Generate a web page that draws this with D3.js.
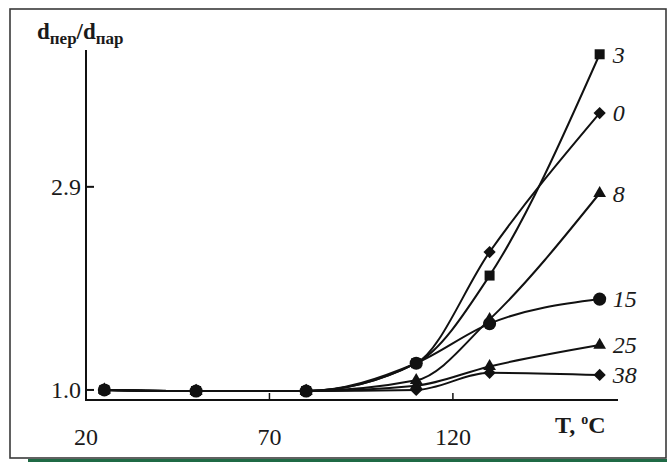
<!DOCTYPE html>
<html><head><meta charset="utf-8">
<script src="https://cdn.jsdelivr.net/npm/d3@7"></script>
<style>
html,body{margin:0;padding:0;background:#fff;}
svg{display:block;}
</style></head>
<body>
<svg id="chart" width="667" height="462" font-family="'Liberation Serif', 'Times New Roman', Tinos, serif"></svg>
<script>
const temps = [25, 50, 80, 110, 130, 160];
const seriesNames = ["3", "0", "8", "15", "25", "38"];
const s3  = [1.00, 0.99, 0.99, 1.25, 2.07, 4.14];
const s0  = [1.00, 0.99, 0.99, 1.25, 2.29, 3.59];
const s8  = [1.00, 0.99, 0.99, 1.09, 1.66, 2.84];
const s15 = [1.00, 0.99, 0.99, 1.25, 1.62, 1.85];
const s25 = [1.00, 0.99, 0.99, 1.04, 1.22, 1.42];
const s38 = [1.00, 0.99, 0.99, 1.00, 1.16, 1.14];
const seriesValues = [s3, s0, s8, s15, s25, s38];
const seriesMarkers = ["square", "diamond", "triangle", "circle", "triangle", "diamond"];
const xTicks = [20, 70, 120];
const yTicks = [1.0, 2.9];

const FONT = "'Liberation Serif', 'Times New Roman', Tinos, serif";
const svg = d3.select("#chart");

// frame
svg.append("rect").attr("x", 10).attr("y", 9).attr("width", 656).attr("height", 449)
  .attr("fill", "none").attr("stroke", "#3a3a3a").attr("stroke-width", 1.6);
svg.append("line").attr("x1", 28).attr("x2", 667).attr("y1", 460.5).attr("y2", 460.5)
  .attr("stroke", "#1f6a45").attr("stroke-width", 3);

const x = d3.scaleLinear().domain([20, 165]).range([86, 618]);
const y = d3.scaleLinear().domain([0.906, 4.18]).range([400, 50]);

// axes lines
svg.append("line").attr("x1", x(20)).attr("x2", x(20)).attr("y1", y(4.18)).attr("y2", y(0.906))
  .attr("stroke", "#111").attr("stroke-width", 2);
svg.append("line").attr("x1", x(20)-1).attr("x2", x(165)).attr("y1", y(0.906)).attr("y2", y(0.906))
  .attr("stroke", "#111").attr("stroke-width", 2);

// y ticks
yTicks.forEach(v => {
  svg.append("line").attr("x1", x(20)).attr("x2", x(20) + 8).attr("y1", y(v)).attr("y2", y(v))
    .attr("stroke", "#111").attr("stroke-width", 2);
  svg.append("text").attr("x", 81).attr("y", y(v)).attr("dy", "0.35em")
    .attr("font-family", FONT).attr("fill", "#1a1a1a")
    .attr("text-anchor", "end").attr("font-size", 24).text(d3.format(".1f")(v));
});
// x ticks
xTicks.forEach(v => {
  if (v > 20) svg.append("line").attr("x1", x(v)).attr("x2", x(v)).attr("y1", y(0.906)).attr("y2", y(0.906) - 7)
    .attr("stroke", "#111").attr("stroke-width", 1.5);
  svg.append("text").attr("x", x(v)).attr("y", 445)
    .attr("font-family", FONT).attr("fill", "#1a1a1a")
    .attr("text-anchor", "middle").attr("font-size", 24).text(v);
});

// axis titles
const xt = svg.append("text").attr("x", 555).attr("y", 433).attr("font-size", 24)
  .attr("font-family", FONT).attr("fill", "#1a1a1a").attr("font-weight", "bold");
xt.append("tspan").text("T, ");
xt.append("tspan").attr("font-size", 14).attr("dy", -9).text("o");
xt.append("tspan").attr("dy", 9).text("C");

const yt = svg.append("text").attr("x", 37).attr("y", 39).attr("font-size", 23)
  .attr("font-family", FONT).attr("fill", "#1a1a1a").attr("font-weight", "bold");
yt.append("tspan").text("d");
yt.append("tspan").attr("font-size", 17).attr("dy", 5).text("пер");
yt.append("tspan").attr("dy", -5).text("/d");
yt.append("tspan").attr("font-size", 17).attr("dy", 5).text("пар");

// lines
const line = d3.line().x((d, i) => x(temps[i])).y(d => y(d)).curve(d3.curveMonotoneX);
seriesValues.forEach(vals => {
  svg.append("path").attr("d", line(vals)).attr("fill", "none")
    .attr("stroke", "#111").attr("stroke-width", 2);
});

// markers
const sym = {
  square: d3.symbol().type(d3.symbolSquare).size(100),
  diamond: d3.symbol().type(d3.symbolSquare).size(75),
  triangle: d3.symbol().type(d3.symbolTriangle).size(70),
  circle: d3.symbol().type(d3.symbolCircle).size(135)
};
const order = [5, 4, 2, 1, 0, 3];
order.forEach(si => {
  const m = seriesMarkers[si];
  seriesValues[si].forEach((v, i) => {
    svg.append("path").attr("d", sym[m]())
      .attr("transform", `translate(${x(temps[i])},${y(v)})` + (m === "diamond" ? " rotate(45)" : ""))
      .attr("fill", "#111");
  });
});

// series labels
seriesNames.forEach((name, si) => {
  const vals = seriesValues[si];
  svg.append("text").attr("x", x(temps[temps.length - 1]) + 13).attr("y", y(vals[vals.length - 1]))
    .attr("font-family", FONT).attr("fill", "#1a1a1a")
    .attr("dy", "0.35em").attr("font-size", 24).attr("font-style", "italic").text(name);
});
</script>
</body></html>
